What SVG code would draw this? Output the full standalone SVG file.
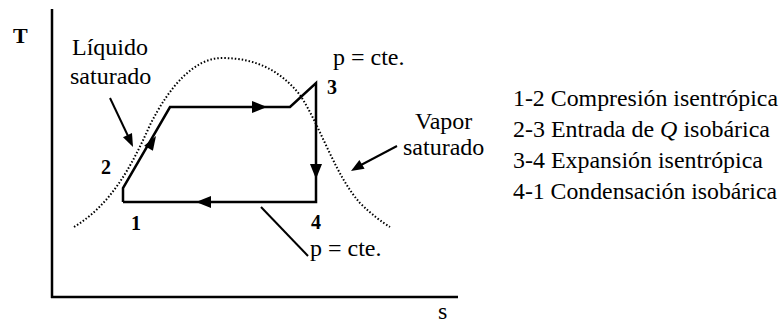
<svg xmlns="http://www.w3.org/2000/svg" width="782" height="325" viewBox="0 0 782 325" font-family="'Liberation Serif', 'DejaVu Serif', serif">
<style>
text{fill:#000}
.lbl{font-size:24px}
.num{font-size:20px;font-weight:bold}
.leg{font-size:23.5px}
.ln{stroke:#000;stroke-width:2.5;fill:none}
.thin{stroke:#000;stroke-width:2;fill:none}
.dot{stroke:#000;stroke-width:2;fill:none;stroke-dasharray:1.5 2}
.ah{fill:#000}
</style>
<rect width="782" height="325" fill="#fff"/>
<g id="axes">
<path class="ln" d="M52,9 V298 M51,297 H458"/>
<text x="13" y="43" style="font-size:22px;font-weight:bold">T</text>
<text x="438" y="319" class="lbl">s</text>
</g>
<g id="dome">
<path class="dot" d="M74,227 C110,205 130,170 150,125 C170,85 195,58 222,58 C255,58 280,70 300,95 C320,125 335,175 360,203 C372,215 382,222 390,227"/>
</g>
<g id="connectors">
<path class="ln" d="M123,202 V188 L170,107 H290 L316,83 V202 H123"/>
<polygon class="ah" points="267,107 252,101 252,113"/>
<polygon class="ah" points="316,179 310,164 322,164"/>
<polygon class="ah" points="196,202 211,196 211,208"/>
<polygon class="ah" points="156,136 152.9,150.8 144.2,145.8"/>
<path class="thin" d="M110,98 L128,136"/>
<polygon class="ah" points="133,147 132,133.1 123,137.3"/>
<path class="thin" d="M397,146 L361,165"/>
<polygon class="ah" points="351,171 364.6,168.8 359.4,160"/>
<path class="thin" d="M261,207 L308,256"/>
</g>
<g id="labels">
<text x="72" y="55" class="lbl">Líquido</text>
<text x="70" y="84" class="lbl">saturado</text>
<text x="415" y="129" class="lbl">Vapor</text>
<text x="403" y="155" class="lbl">saturado</text>
<text x="333" y="65" class="lbl">p = cte.</text>
<text x="310" y="256" class="lbl">p = cte.</text>
</g>
<g id="p1"><text x="131" y="230" class="num">1</text></g>
<g id="p2"><text x="101" y="174" class="num">2</text></g>
<g id="p3"><text x="327" y="94" class="num">3</text></g>
<g id="p4"><text x="311" y="229" class="num">4</text></g>
<g id="legend">
<text x="513" y="106" class="leg" textLength="265" lengthAdjust="spacingAndGlyphs">1-2 Compresión isentrópica</text>
<text x="513" y="137" class="leg" textLength="257" lengthAdjust="spacingAndGlyphs">2-3 Entrada de <tspan font-style="italic">Q</tspan> isobárica</text>
<text x="513" y="168" class="leg" textLength="250" lengthAdjust="spacingAndGlyphs">3-4 Expansión isentrópica</text>
<text x="513" y="199" class="leg" textLength="264" lengthAdjust="spacingAndGlyphs">4-1 Condensación isobárica</text>
</g>
</svg>
